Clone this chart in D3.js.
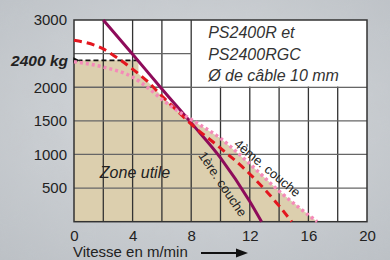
<!DOCTYPE html>
<html>
<head>
<meta charset="utf-8">
<script src="https://cdn.jsdelivr.net/npm/d3@7"></script>
<style>
  html, body { margin: 0; padding: 0; }
  body { width: 390px; height: 260px; overflow: hidden; }
  text { font-family: "Liberation Sans", Arial, sans-serif; fill: #222; }
</style>
</head>
<body>
<div id="chart"></div>
<script>
// vitesse (m/min) / charge (kg)
var couche1 = [[2, 3000], [4, 2490], [6, 1975], [8, 1470], [10, 950], [12, 300], [12.8, 0]];
var coucheMid = [[0, 2700], [2, 2570], [3, 2430], [4, 2270], [5, 2090], [6, 1870], [7, 1660], [8, 1450], [10, 1095], [12, 710], [14, 235], [14.86, 0]];
var couche4 = [[0, 2380], [2, 2300], [4, 2150], [5, 2000], [6, 1820], [7, 1660], [8, 1520], [10, 1240], [12, 860], [14, 455], [16.6, 0]];
var zoneUtile = [[0, 0], [0, 2400], [4.4, 2400], [4.4, 2200], [5, 2090], [6, 1870], [7, 1660], [8, 1520], [10, 1240], [12, 860], [14, 455], [16.6, 0]];
var xTicks = [0, 4, 8, 12, 16, 20];
var yTicks = [500, 1000, 1500, 2000, 3000];
var chargeMax = 2400;
var titleLines = ["PS2400R et", "PS2400RGC", "Ø de câble 10 mm"];

var margin = {top: 20, right: 23, bottom: 38, left: 74},
    width = 390 - margin.left - margin.right,
    height = 260 - margin.top - margin.bottom - 0.3;

var x = d3.scaleLinear().domain([0, 20]).range([0, width]);
var y = d3.scaleLinear().domain([0, 3000]).range([height, 0]);

var line = d3.line()
    .x(function(d) { return x(d[0]); })
    .y(function(d) { return y(d[1]); })
    .curve(d3.curveMonotoneX);

var svgRoot = d3.select("#chart").append("svg")
    .attr("width", 390)
    .attr("height", 260);

var defs = svgRoot.append("defs");
var grad = defs.append("radialGradient").attr("id", "bg")
    .attr("cx", "50%").attr("cy", "45%").attr("r", "75%");
grad.append("stop").attr("offset", "0%").attr("stop-color", "#d9dcdf");
grad.append("stop").attr("offset", "100%").attr("stop-color", "#bcc1c6");
var noise = defs.append("filter").attr("id", "noise");
noise.append("feTurbulence").attr("type", "fractalNoise").attr("baseFrequency", 0.04).attr("numOctaves", 3);
noise.append("feColorMatrix").attr("type", "matrix")
    .attr("values", "0 0 0 0 0.5  0 0 0 0 0.5  0 0 0 0 0.52  0 0 0 0.35 0");
defs.append("marker").attr("id", "arrowL")
    .attr("viewBox", "0 0 10 10").attr("refX", 1).attr("refY", 5)
    .attr("markerWidth", 4).attr("markerHeight", 4).attr("orient", "auto")
  .append("path").attr("d", "M10,0 L0,5 L10,10 z").attr("fill", "#111");

svgRoot.append("rect").attr("width", 390).attr("height", 260).attr("fill", "url(#bg)");
svgRoot.append("rect").attr("width", 390).attr("height", 260).attr("filter", "url(#noise)").attr("opacity", 0.35);

var svg = svgRoot.append("g")
    .attr("transform", "translate(" + margin.left + "," + margin.top + ")");

svg.append("rect").attr("width", width).attr("height", height).attr("fill", "#fff");

// zone utile
svg.append("path")
    .datum(zoneUtile)
    .attr("d", d3.line().x(function(d) { return x(d[0]); }).y(function(d) { return y(d[1]); }))
    .attr("fill", "#dccfae");

// grid
svg.selectAll(".vgrid")
    .data(d3.range(2, 20, 2))
    .enter().append("line")
    .attr("x1", function(d) { return x(d); })
    .attr("x2", function(d) { return x(d); })
    .attr("y1", 0).attr("y2", height)
    .attr("stroke", "#333").attr("stroke-width", 1.3);

svg.selectAll(".hgrid")
    .data(d3.range(500, 3000, 500))
    .enter().append("line")
    .attr("x1", 0).attr("x2", width)
    .attr("y1", function(d) { return y(d); })
    .attr("y2", function(d) { return y(d); })
    .attr("stroke", "#666").attr("stroke-width", 1.3);

// title box
svg.append("rect")
    .attr("x", x(8) + 0.8).attr("y", 0)
    .attr("width", x(20) - x(8) - 0.8).attr("height", y(2000) - 0.8)
    .attr("fill", "#fff");

svg.selectAll(".title")
    .data(titleLines)
    .enter().append("text")
    .attr("x", x(8) + 17)
    .attr("y", function(d, i) { return 18 + i * 21.5; })
    .style("font-size", "16px")
    .style("font-style", "italic")
    .style("fill", "#333")
    .text(function(d) { return d; });

svg.append("rect").attr("width", width).attr("height", height)
    .attr("fill", "none").attr("stroke", "#333").attr("stroke-width", 1.5);

// 2400 kg marker
svg.append("line")
    .attr("x1", x(4.4)).attr("x2", x(0.35))
    .attr("y1", y(chargeMax)).attr("y2", y(chargeMax))
    .attr("stroke", "#111").attr("stroke-width", 1.6)
    .attr("stroke-dasharray", "5,3")
    .attr("marker-end", "url(#arrowL)");

// curves
svg.append("path").datum(couche1).attr("d", line)
    .attr("fill", "none").attr("stroke", "#8e0b5a").attr("stroke-width", 3);
svg.append("path").datum(coucheMid).attr("d", line)
    .attr("fill", "none").attr("stroke", "#e3161f").attr("stroke-width", 3)
    .attr("stroke-dasharray", "8,5");
svg.append("path").datum(couche4).attr("d", line)
    .attr("fill", "none").attr("stroke", "#f58ab8").attr("stroke-width", 3.5)
    .attr("stroke-dasharray", "3,3");

// labels in the plot
svg.append("text")
    .attr("transform", "translate(" + x(4.16) + "," + y(732) + ")")
    .attr("text-anchor", "middle").attr("dy", "0.35em")
    .style("font-size", "16px").style("font-style", "italic")
    .text("Zone utile");

svg.append("text")
    .attr("transform", "translate(" + x(13.2) + "," + y(800) + ") rotate(40)")
    .attr("text-anchor", "middle").attr("dy", "0.35em")
    .style("font-size", "13px")
    .text("4ème. couche");

svg.append("text")
    .attr("transform", "translate(" + x(10.15) + "," + y(560) + ") rotate(56)")
    .attr("text-anchor", "middle").attr("dy", "0.35em")
    .style("font-size", "13px")
    .text("1ère. couche");

// axes
var yAxis = svg.append("g")
    .call(d3.axisLeft(y).tickValues(yTicks).tickFormat(d3.format("d")).tickSize(0).tickPadding(7));
yAxis.select(".domain").remove();
yAxis.selectAll("text").style("font-size", "15px").style("fill", "#222")
    .style("font-family", "'Liberation Sans', Arial, sans-serif");

svg.append("text")
    .attr("x", -6).attr("y", y(chargeMax)).attr("dy", "0.35em")
    .attr("text-anchor", "end")
    .style("font-size", "15.5px").style("font-weight", "bold").style("font-style", "italic")
    .text(chargeMax + " kg");

var xAxis = svg.append("g")
    .attr("transform", "translate(0," + height + ")")
    .call(d3.axisBottom(x).tickValues(xTicks).tickFormat(d3.format("d")).tickSize(0).tickPadding(9));
xAxis.select(".domain").remove();
xAxis.selectAll("text").style("font-size", "15px").style("fill", "#222")
    .style("font-family", "'Liberation Sans', Arial, sans-serif");

svg.append("text")
    .attr("x", -1).attr("y", height + 35.5)
    .style("font-size", "15px")
    .text("Vitesse en m/min");

svgRoot.append("line")
    .attr("x1", 201).attr("x2", 238).attr("y1", 253).attr("y2", 253)
    .attr("stroke", "#111").attr("stroke-width", 2.2);
svgRoot.append("path")
    .attr("d", "M236,248.5 L248,253 L236,257.5 z")
    .attr("fill", "#111");
</script>
</body>
</html>
